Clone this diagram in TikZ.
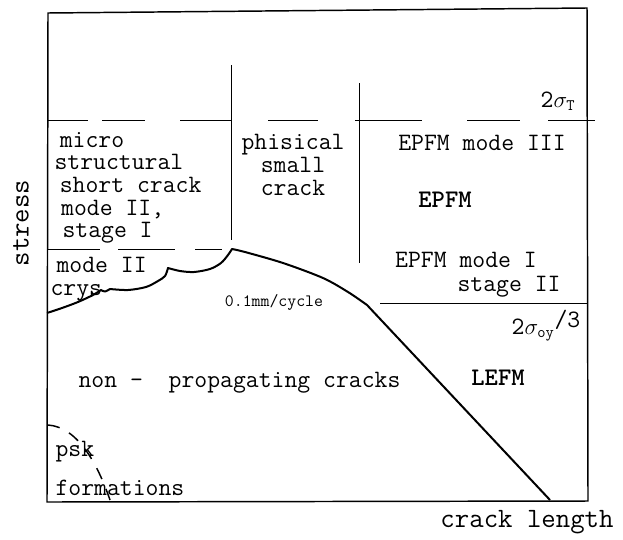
\documentclass[tikz,border=0pt]{standalone}
\tikzset{every picture/.style={line width=0.75pt}}
\tikzset{
  lab/.style={font=\ttfamily\fontsize{18.75}{17}\selectfont, inner sep=0pt},
  smalllab/.style={font=\ttfamily\fontsize{13}{15}\selectfont, inner sep=0pt},
  axislab/.style={font=\ttfamily\fontsize{21}{24}\selectfont, inner sep=0pt},
  frame/.style={line width=1.1pt},
  threshold/.style={line width=1.5pt, line join=round},
}
\begin{document}
\begin{tikzpicture}[x=0.75pt,y=0.75pt,yscale=-1,xscale=1]
\useasboundingbox (0,0) rectangle (623,539);

%Shape: Rectangle [frame]
\draw [frame] (48,13) -- (587,8) -- (588,501) -- (47,502) -- cycle ;
%Straight Lines [upper limit]
\draw (48,120) -- (88,120) (102,120) -- (145,120) (180,120) -- (231,120) (268,120) -- (318,120) (355,120) -- (422,120) (467,120) -- (520,120) (548,120) -- (595,120) ;
%Straight Lines [first border]
\draw (231,65) -- (231,240) ;
%Straight Lines [second border]
\draw (359,83) -- (359,263) ;
%Straight Lines [mode II limit]
\draw (48,249) -- (100,249) (118,249) -- (175,249) (195,249) -- (222,249) ;
%Straight Lines [yield limit]
\draw (380,303) -- (587,303) ;

%Curve [threshold]
\draw [threshold] plot[smooth] coordinates {(47,313) (62,308) (78,302) (93,295) (101,290)}
  -- plot[smooth] coordinates {(101,290) (105,291.5) (110,289)}
  -- plot[smooth] coordinates {(110,289) (128,290) (146,287) (158,281) (165,276) (168,268)}
  -- plot[smooth] coordinates {(168,268) (180,271) (194,272) (210,269) (221,263) (228,255) (232,249)}
  -- plot[smooth] coordinates {(232,249) (245,252) (283,263) (323,278) (348,292) (367,305)}
  -- (550,500) ;

%Curve [psb]
\draw [line width=1.1pt, dash pattern=on 9pt off 8pt] (48,425) .. controls (78,427) and (98,465) .. (110,500) ;

% Text Node
\node [axislab, rotate=90] (stress) at (21,223) {stress};
\node [axislab] (cracklength) at (527,522) {crack length};

\node [lab, align=left, anchor=west] (micro) at (54,188) {\hspace{4pt}micro\\structural\\\hspace{4pt}short crack\\\hspace{5pt}mode II,\\\hspace{6pt}stage I};
\node [lab, align=center] (phisical) at (293,165) {phisical\\small\\crack};
\node [lab] (epfmthree) at (482,143) {EPFM mode III};
\node [lab, font=\ttfamily\bfseries\fontsize{19}{17}\selectfont] (epfm) at (445,200) {EPFM};
\node [lab] (epfmone) at (466,260) {EPFM mode I};
\node [lab] (stagetwo) at (509,287) {stage II};
\node [lab] (sigmat) at (558,101) {2$\sigma_{\mathtt{T}}$};
\node [lab] (sigmaoy) at (546,326) {2$\sigma_{\mathtt{oy}}$\raisebox{5pt}{/3}};

\node [lab, align=left, anchor=west] (modetwo) at (50,279) {\hspace{4.5pt}mode II\\crys};
\node [smalllab] (rate) at (274,302) {0.1mm/cycle};
\node [lab, anchor=west] (nonprop) at (78,383) {non -\ \ propagating cracks};
\node [lab, font=\ttfamily\bfseries\fontsize{19}{17}\selectfont] (lefm) at (498,378) {LEFM};
\node [lab, anchor=west] (psb) at (55,452) {psk};
\node [lab, anchor=west] (formations) at (55,488) {formations};
\end{tikzpicture}
\end{document}
